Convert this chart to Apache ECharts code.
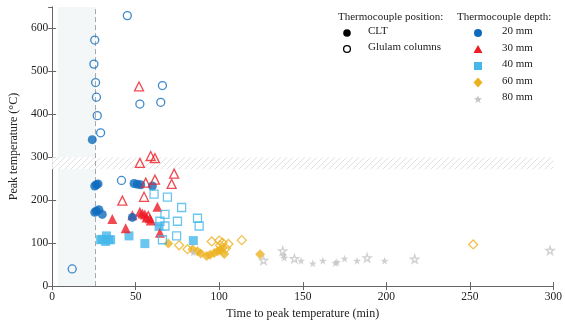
<!DOCTYPE html>
<html><head><meta charset="utf-8">
<script src="https://cdn.jsdelivr.net/npm/echarts@6/dist/echarts.min.js"></script>
<style>html,body{margin:0;padding:0;background:#fff}#c{width:565px;height:325px}</style>
</head><body><div id="c"></div>
<script>
// ---- data (time to peak [min], peak temperature [°C]) ----
const clt20 = [[24,341],[25.5,233],[26.5,236],[27.5,238],[25.5,172],[26.5,175],[28,178],[30,167],[49,239],[51,237],[53,236],[60,233],[48,160]];
const glu20 = [[45,630],[25.5,573],[25,517],[26,474],[26.5,440],[27,397],[29,357],[52.5,424],[65,428],[66,467],[41.5,246],[12,40]];
const clt30 = [[36,156],[44,135],[48,165],[52.5,173],[54,169],[55.5,167],[56.5,160],[58.5,158],[59,153],[63,185],[64.5,124]];
const glu30 = [[52,465],[52.5,287],[59,303],[61.5,298],[56,241],[61.5,248],[55,208],[42,199],[73,262],[71.5,238],[57.5,163]];
const clt40 = [[29,108],[30,109],[32.5,117],[32,104],[34,108],[35,108],[46,117],[55.5,99],[64,139],[84.5,106]];
const glu40 = [[61,214],[69,207],[77.5,183],[67.5,167],[64.5,151],[75,151],[67.5,140],[87,158],[88,140],[74.5,117],[66,108]];
const clt60 = [[69.5,99],[84,86],[87,81],[89,76],[92.5,70],[94.5,73],[97,77],[99,81],[100.5,84],[102,88],[103,75],[124.5,74]];
const glu60 = [[76,95],[81,86],[95.5,104],[100,106],[102,101],[100.5,95],[105.5,98],[113.5,107],[104,88],[252,97]];
const clt80 = [[84.5,78],[138.5,72],[139,66],[149,59],[156,53],[162,59],[169.5,54],[170.5,56],[175,64],[182.5,59],[199,59]];
const glu80 = [[126.5,60],[138,82],[145,64],[188.5,66],[217,63],[298,83]];
const xTicks = [0,50,100,150,200,250,300];
const yTicks = [0,100,200,300,400,500,600];
const shadeX = [3.5,26];      // shaded region (min)
const dashX = 26;             // dashed line (min)
const hatchY = [272,300];     // hatched band (°C)
const xTitle = 'Time to peak temperature (min)';
const yTitle = 'Peak temperature (°C)';

const BLUE='#0f6cbd', RED='#ee1c25', LBLUE='#45b8ea', ORANGE='#edb120', GRAY='#c4c4c4';
const FONT='Liberation Serif';
const starPath='path://M50,0 L61.2,34.5 L97.6,34.5 L68.2,55.9 L79.4,90.5 L50,69.1 L20.6,90.5 L31.8,55.9 L2.4,34.5 L38.8,34.5 Z';

// hatch pattern
const pc=document.createElement('canvas'); pc.width=6; pc.height=6;
const px=pc.getContext('2d'); px.fillStyle='#fff'; px.fillRect(0,0,6,6);
px.strokeStyle='#e0e0e0'; px.lineWidth=1;
px.beginPath(); px.moveTo(0,6); px.lineTo(6,0); px.moveTo(-1,1); px.lineTo(1,-1); px.moveTo(5,7); px.lineTo(7,5); px.stroke();

function sc(name,data,sym,size,color,open){
  return {type:'scatter',name,data,symbol:sym,symbolSize:size,z:open?4:3,
    itemStyle:open?{color:'rgba(255,255,255,0)',borderColor:color,borderWidth:1.3}:{color:color,borderWidth:0}};
}
const chart=echarts.init(document.getElementById('c'),null,{renderer:'canvas'});
const axLine={lineStyle:{color:'#666',width:1}};
const series=[
  sc('clt60',clt60,'diamond',10,ORANGE,false),
  sc('glu60',glu60,'diamond',9,ORANGE,true),
  sc('clt80',clt80,starPath,8,GRAY,false),
  sc('glu80',glu80,starPath,8,GRAY,true),
  sc('clt40',clt40,'rect',9,LBLUE,false),
  sc('glu40',glu40,'rect',8,LBLUE,true),
  sc('clt30',clt30,'triangle',10,RED,false),
  sc('glu30',glu30,'triangle',9,RED,true),
  sc('clt20',clt20,'circle',9,BLUE,false),
  sc('glu20',glu20,'circle',8,BLUE,true),
  {type:'scatter',data:[],silent:true,z:1,
   markArea:{silent:true,z:1,data:[
     [{xAxis:shadeX[0],yAxis:0,itemStyle:{color:'#f3f7f7'}},{xAxis:shadeX[1],yAxis:650}],
     [{xAxis:0,yAxis:hatchY[0],itemStyle:{color:{image:pc,repeat:'repeat'}}},{xAxis:300,yAxis:hatchY[1]}]
   ]},
   markLine:{silent:true,symbol:'none',z:2,label:{show:false},
     lineStyle:{color:'#a8a8a8',type:[5,3],width:1},data:[{xAxis:dashX}]}}
];
const option={
  animation:false,
  grid:{left:48,right:9,top:7,bottom:30},
  xAxis:[
    {type:'value',min:0,max:300,interval:50,name:xTitle,nameLocation:'middle',nameGap:17,
     nameTextStyle:{fontFamily:FONT,fontSize:12,color:'#222'},
     axisLine:axLine,axisTick:{inside:true,length:4,lineStyle:{color:'#666'}},
     axisLabel:{margin:5,fontFamily:FONT,fontSize:11.5,color:'#222'},splitLine:{show:false}},
    {type:'value',position:'top',min:0,max:300,interval:50,axisLine:axLine,
     axisTick:{inside:true,length:4,lineStyle:{color:'#666'}},axisLabel:{show:false},splitLine:{show:false}}
  ],
  yAxis:[
    {type:'value',min:0,max:650,interval:100,name:yTitle,nameLocation:'middle',nameGap:31,
     nameTextStyle:{fontFamily:FONT,fontSize:12,color:'#222'},
     axisLine:axLine,axisTick:{inside:true,length:4,lineStyle:{color:'#666'}},
     axisLabel:{margin:4,fontFamily:FONT,fontSize:11.5,color:'#222',showMaxLabel:false,
       formatter:v=>yTicks.includes(v)?String(v):''},splitLine:{show:false}},
    {type:'value',position:'right',min:0,max:650,interval:100,axisLine:axLine,
     axisTick:{inside:true,length:4,lineStyle:{color:'#666'}},axisLabel:{show:false},splitLine:{show:false}}
  ],
  series:series,
  graphic:[]
};
// legend (graphic)
const g=[];
const tx=(x,y,t)=>g.push({type:'text',left:x,top:y-7,style:{text:t,font:'11px "'+FONT+'"',fill:'#222'},z:10});
tx(338,19,'Thermocouple position:');
g.push({type:'circle',shape:{cx:347,cy:33,r:3.8},style:{fill:'#000'},z:10});
tx(368,33,'CLT');
g.push({type:'circle',shape:{cx:347,cy:49,r:3.4},style:{fill:'#fff',stroke:'#000',lineWidth:1.3},z:10});
tx(368,49,'Glulam columns');
tx(457,19,'Thermocouple depth:');
const ly=[33,49.5,66,82.5,99], lx=478;
g.push({type:'circle',shape:{cx:lx,cy:ly[0],r:4},style:{fill:BLUE},z:10});
g.push({type:'polygon',shape:{points:[[lx,ly[1]-4.5],[lx+4.5,ly[1]+3.5],[lx-4.5,ly[1]+3.5]]},style:{fill:RED},z:10});
g.push({type:'rect',shape:{x:lx-4,y:ly[2]-4,width:8,height:8},style:{fill:LBLUE},z:10});
g.push({type:'polygon',shape:{points:[[lx,ly[3]-5],[lx+4.5,ly[3]],[lx,ly[3]+5],[lx-4.5,ly[3]]]},style:{fill:ORANGE},z:10});
const st=[];for(let i=0;i<10;i++){const r=i%2?1.8:4.3,a=-Math.PI/2+i*Math.PI/5;st.push([lx+r*Math.cos(a),ly[4]+0.5+r*Math.sin(a)]);}
g.push({type:'polygon',shape:{points:st},style:{fill:GRAY},z:10});
['20 mm','30 mm','40 mm','60 mm','80 mm'].forEach((t,i)=>tx(502,ly[i],t));
option.graphic=g;
chart.setOption(option);
</script></body></html>
